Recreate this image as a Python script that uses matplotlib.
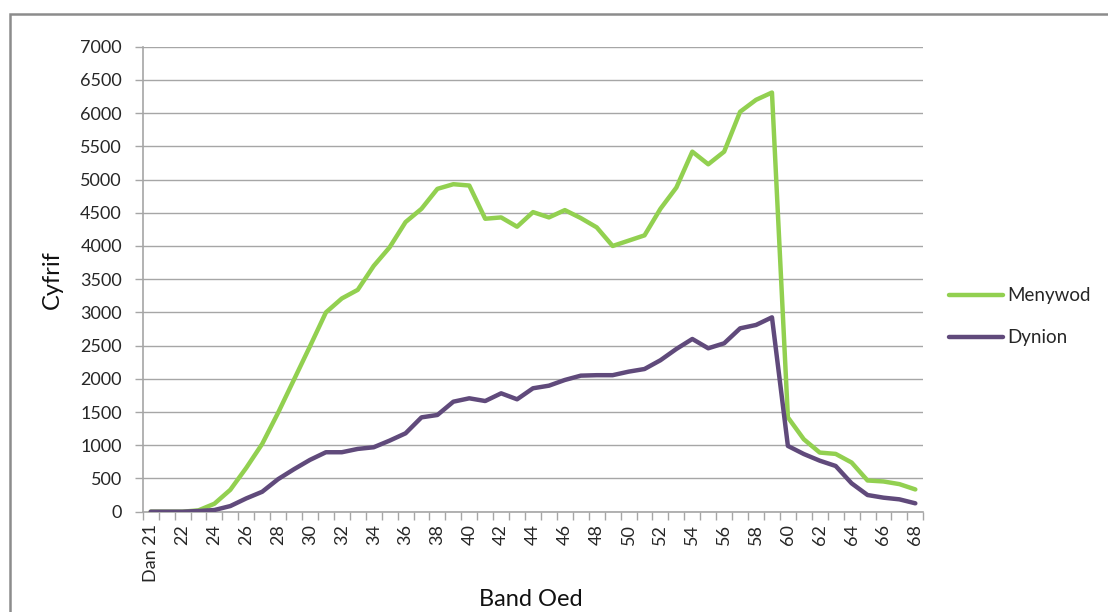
import matplotlib
matplotlib.use("Agg")
import matplotlib.pyplot as plt
import numpy as np
from matplotlib.lines import Line2D
from matplotlib.patches import Rectangle

# Age bands: "Dan 21" (under 21), then single years 21..68
age_bands = ["Dan 21"] + [str(a) for a in range(21, 69)]

menywod = [0, 0, 0, 20, 120, 330, 660, 1020, 1490, 1990, 2490, 3000, 3210, 3340,
           3700, 3980, 4360, 4560, 4860, 4930, 4910, 4410, 4430, 4290, 4510, 4430,
           4540, 4420, 4280, 4000, 4080, 4160, 4560, 4880, 5420, 5230, 5420, 6020,
           6200, 6310, 1420, 1090, 890, 870, 740, 470, 455, 415, 335]

dynion = [0, 0, 0, 10, 25, 85, 200, 300, 490, 640, 780, 895, 895, 945, 970, 1070,
          1180, 1420, 1456, 1656, 1707, 1666, 1782, 1692, 1858, 1897, 1983, 2048,
          2055, 2055, 2108, 2148, 2280, 2450, 2600, 2460, 2535, 2760, 2811, 2926,
          990, 868, 768, 688, 427, 251, 211, 186, 126]

series_names = ["Menywod", "Dynion"]
series_colors = ["#92D050", "#604A7B"]

y_ticks = list(range(0, 7001, 500))

font = "Lato"
text_col = "#262626"
W, H = 1108, 612

fig = plt.figure(figsize=(W / 100, H / 100), dpi=100)
ax = fig.add_axes([0.1288, 0.1639, 0.8333 - 0.1288, 0.9237 - 0.1639])

x = np.arange(len(age_bands))
for vals, name, col in zip([menywod, dynion], series_names, series_colors):
    ax.plot(x, vals, color=col, lw=3.2, label=name, solid_joinstyle="round",
            solid_capstyle="round", zorder=3)

ax.set_xlim(-0.5, len(age_bands) - 0.5)
ax.set_ylim(0, 7000)
ax.set_yticks(y_ticks)
ax.set_yticklabels([str(v) for v in y_ticks], fontsize=13, family=font, color=text_col)
ax.yaxis.grid(True, color="#A6A6A6", lw=1.0, zorder=0)
ax.set_axisbelow(True)

# category labels every second band, tick marks on band boundaries
ax.set_xticks(x[::2])
ax.set_xticklabels([age_bands[i] for i in x[::2]], rotation=90, fontsize=13,
                   family=font, color=text_col)
ax.set_xticks(np.arange(-0.5, len(age_bands), 1.0), minor=True)
ax.tick_params(axis="x", which="major", length=0, pad=9)
ax.tick_params(axis="x", which="minor", length=6, width=1, color="#A6A6A6", direction="out")
ax.tick_params(axis="y", length=6, width=1, color="#A6A6A6", direction="out", pad=9)

for s in ["top", "right"]:
    ax.spines[s].set_visible(False)
for s in ["left", "bottom"]:
    ax.spines[s].set_color("#A6A6A6")
    ax.spines[s].set_linewidth(1.2)

ax.set_ylabel("Cyfrif", fontsize=17, family=font, color="#111111")
ax.set_xlabel("Band Oed", fontsize=17, family=font, color="#111111")
ax.yaxis.set_label_coords(-0.102, 0.50)
ax.xaxis.set_label_coords(0.497, -0.166)

# legend: short line sample followed by the series name
for i, (name, col) in enumerate(zip(series_names, series_colors)):
    yy = 1 - (295 + 42 * i) / H
    fig.add_artist(Line2D([949 / W, 1003 / W], [yy, yy], transform=fig.transFigure,
                          color=col, lw=3.2, solid_capstyle="round"))
    fig.text(1007 / W, yy, name, family=font, fontsize=13.5, color=text_col,
             ha="left", va="center")

# outer chart border
fig.patches.append(Rectangle((10 / W, -0.1), 1.2, (H - 14) / H + 0.1,
                             transform=fig.transFigure, fill=False,
                             edgecolor="#8C8C8C", lw=1.8))

fig.savefig("out.png", dpi=100)
